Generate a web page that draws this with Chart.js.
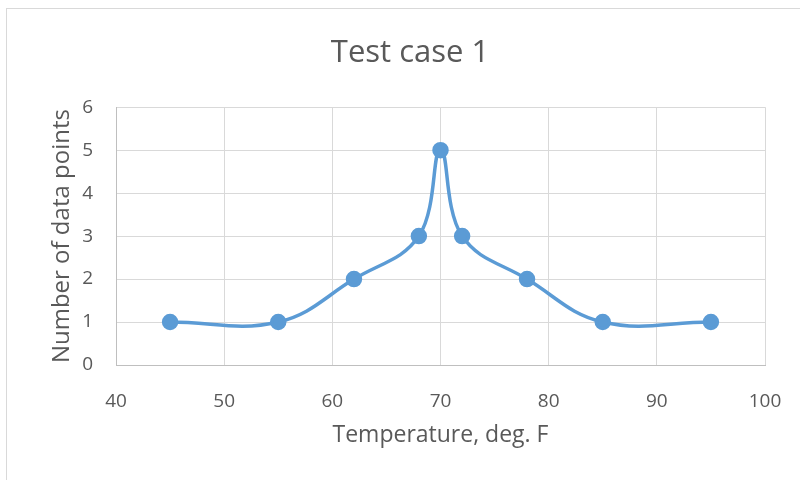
<!DOCTYPE html>
<html><head><meta charset="utf-8">
<script src="https://cdn.jsdelivr.net/npm/chart.js@4"></script>
<style>
html,body{margin:0;padding:0;background:#fff;overflow:hidden}
#frame{position:absolute;left:6px;top:8px;width:820px;height:500px;border:1px solid #d9d9d9;box-sizing:border-box}
#wrap{position:absolute;left:0;top:0;width:800px;height:480px}
</style></head><body>
<div id="frame"></div>
<div id="wrap"><canvas id="c" width="800" height="480"></canvas></div>
<script>
const temperatures = [45, 55, 62, 68, 70, 72, 78, 85, 95];
const counts = [1, 1, 2, 3, 5, 3, 2, 1, 1];
const xTicks = [40, 50, 60, 70, 80, 90, 100];
const yTicks = [0, 1, 2, 3, 4, 5, 6];
const chartTitle = 'Test case 1';
const xTitle = 'Temperature, deg. F';
const yTitle = 'Number of data points';

const FONT = "'Open Sans', 'Liberation Sans', sans-serif";
const TXT = '#595959';
const pts = temperatures.map((t, i) => ({x: t, y: counts[i]}));

new Chart(document.getElementById('c'), {
  type: 'scatter',
  data: { datasets: [{
    data: pts,
    showLine: true,
    borderColor: '#5b9bd5',
    backgroundColor: '#5b9bd5',
    borderWidth: 3.5,
    pointRadius: 6.5,
    pointHoverRadius: 6.5,
    tension: 0.4
  }]},
  options: {
    responsive: false,
    animation: false,
    layout: { padding: { left: 55, right: 35, top: 24, bottom: 20 } },
    plugins: {
      legend: { display: false },
      tooltip: { enabled: false },
      title: { display: true, text: chartTitle, color: TXT,
        font: { family: FONT, size: 31, weight: 'normal' },
        padding: { top: 11, bottom: 35 } }
    },
    scales: {
      x: {
        type: 'linear', min: xTicks[0], max: xTicks[xTicks.length-1],
        afterBuildTicks: s => { s.ticks = xTicks.map(v => ({value: v})); },
        afterFit: s => { s.height = 95; s.paddingRight = 0; s.paddingLeft = 0; },
        grid: { color: '#d9d9d9', lineWidth: 1, drawTicks: false },
        border: { color: '#bfbfbf', width: 1 },
        ticks: { color: TXT, font: { family: FONT, size: 19 }, padding: 25 },
        title: { display: true, text: xTitle, color: TXT,
          font: { family: FONT, size: 23 }, padding: { top: 0, bottom: 11 } }
      },
      y: {
        type: 'linear', min: yTicks[0], max: yTicks[yTicks.length-1],
        afterBuildTicks: s => { s.ticks = yTicks.map(v => ({value: v})); },
        afterFit: s => { s.width = 61; },
        grid: { color: '#d9d9d9', lineWidth: 1, drawTicks: false },
        border: { color: '#bfbfbf', width: 1 },
        ticks: { color: TXT, font: { family: FONT, size: 19 }, padding: 23 },
        title: { display: true, text: yTitle, color: TXT,
          font: { family: FONT, size: 24 }, padding: { top: -7, bottom: 0 } }
      }
    }
  }
});
</script>
</body></html>
